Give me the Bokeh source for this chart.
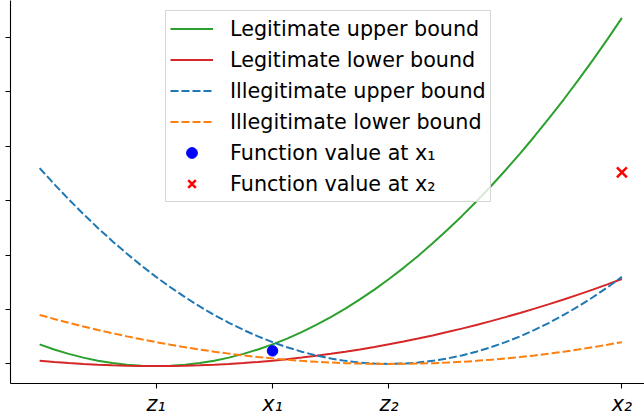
from bokeh.plotting import figure
from bokeh.models import Range1d, FixedTicker, Legend, LegendItem
from bokeh.embed import file_html
from bokeh.resources import INLINE

# ---- data ----
xs = [0.0, 0.125, 0.25, 0.375, 0.5, 0.625, 0.75, 0.875,
      1.0, 1.125, 1.25, 1.375, 1.5, 1.625, 1.75, 1.875,
      2.0, 2.125, 2.25, 2.375, 2.5, 2.625, 2.75, 2.875,
      3.0, 3.125, 3.25, 3.375, 3.5, 3.625, 3.75, 3.875,
      4.0, 4.125, 4.25, 4.375, 4.5, 4.625, 4.75, 4.875, 5.0]
legit_upper = [0.36, 0.266, 0.185, 0.116, 0.06, 0.016, -0.015, -0.034,
               -0.04, -0.034, -0.015, 0.016, 0.06, 0.116, 0.185, 0.266,
               0.36, 0.466, 0.585, 0.716, 0.86, 1.016, 1.185, 1.366,
               1.56, 1.766, 1.985, 2.216, 2.46, 2.716, 2.985, 3.266,
               3.56, 3.866, 4.185, 4.516, 4.86, 5.216, 5.585, 5.966, 6.36]
legit_lower = [0.06, 0.037, 0.016, -0.001, -0.015, -0.026, -0.034, -0.038,
               -0.04, -0.038, -0.034, -0.026, -0.015, -0.001, 0.016, 0.037,
               0.06, 0.087, 0.116, 0.149, 0.185, 0.224, 0.266, 0.312,
               0.36, 0.412, 0.466, 0.524, 0.585, 0.649, 0.716, 0.787,
               0.86, 0.937, 1.016, 1.099, 1.185, 1.274, 1.366, 1.462, 1.56]
illeg_upper = [3.6, 3.306, 3.025, 2.756, 2.5, 2.256, 2.025, 1.806,
               1.6, 1.406, 1.225, 1.056, 0.9, 0.756, 0.625, 0.506,
               0.4, 0.306, 0.225, 0.156, 0.1, 0.056, 0.025, 0.006,
               0.0, 0.006, 0.025, 0.056, 0.1, 0.156, 0.225, 0.306,
               0.4, 0.506, 0.625, 0.756, 0.9, 1.056, 1.225, 1.406, 1.6]
illeg_lower = [0.9, 0.827, 0.756, 0.689, 0.625, 0.564, 0.506, 0.452,
               0.4, 0.352, 0.306, 0.264, 0.225, 0.189, 0.156, 0.127,
               0.1, 0.077, 0.056, 0.039, 0.025, 0.014, 0.006, 0.002,
               0.0, 0.002, 0.006, 0.014, 0.025, 0.039, 0.056, 0.077,
               0.1, 0.127, 0.156, 0.189, 0.225, 0.264, 0.306, 0.352, 0.4]
x1_point = [2.0]
f_x1 = [0.24]
x2_point = [5.0]
f_x2 = [3.52]

tick_positions = [1, 2, 3, 5]
tick_labels = ["z\u2081", "x\u2081", "z\u2082", "x\u2082"]
y_ticks = [0, 1, 2, 3, 4, 5, 6]

FONT = "DejaVu Sans"

p = figure(width=644, height=418, output_backend="svg", toolbar_location=None,
           x_range=Range1d(-0.25, 5.194), y_range=Range1d(-0.36, 6.68),
           min_border_left=10, min_border_right=0, min_border_top=0, min_border_bottom=35)
p.outline_line_color = None
p.xgrid.visible = False
p.ygrid.visible = False
p.background_fill_color = "white"
p.border_fill_color = "white"

r_gu = p.line(xs, legit_upper, line_color="#2ca02c", line_width=2)
r_gl = p.line(xs, legit_lower, line_color="#d62728", line_width=2)
r_iu = p.line(xs, illeg_upper, line_color="#1f77b4", line_width=2, line_dash="8 3")
r_il = p.line(xs, illeg_lower, line_color="#ff7f0e", line_width=2, line_dash="8 3")
r_p1 = p.scatter(x1_point, f_x1, marker="circle", size=10.5, fill_color="#0000ff", line_color="#0000ff")
r_p2 = p.scatter(x2_point, f_x2, marker="x", size=14, line_color="#ff0000", line_width=2.5)

# axes
p.xaxis.ticker = FixedTicker(ticks=tick_positions)
p.xaxis.major_label_overrides = {k: v for k, v in zip(tick_positions, tick_labels)}
p.xaxis.major_label_text_font = FONT
p.xaxis.major_label_text_font_style = "italic"
p.xaxis.major_label_text_font_size = "20.7px"
p.xaxis.major_label_text_color = "black"
p.xaxis.major_label_standoff = 3
p.yaxis.ticker = FixedTicker(ticks=y_ticks)
p.yaxis.major_label_overrides = {k: "" for k in y_ticks}
p.yaxis.major_label_standoff = 0
p.yaxis.major_label_text_font_size = "1px"
for ax in (p.xaxis, p.yaxis):
    ax.axis_line_color = "black"
    ax.axis_line_width = 1.1
    ax.major_tick_line_color = "black"
    ax.major_tick_line_width = 1.1
    ax.major_tick_out = 5
    ax.major_tick_in = 0
    ax.minor_tick_line_color = None

legend = Legend(items=[
    LegendItem(label="Legitimate upper bound", renderers=[r_gu]),
    LegendItem(label="Legitimate lower bound", renderers=[r_gl]),
    LegendItem(label="Illegitimate upper bound", renderers=[r_iu]),
    LegendItem(label="Illegitimate lower bound", renderers=[r_il]),
    LegendItem(label="Function value at x\u2081", renderers=[r_p1]),
    LegendItem(label="Function value at x\u2082", renderers=[r_p2]),
], location=(155, 181))
legend.label_text_font = FONT
legend.label_text_font_size = "20.7px"
legend.label_text_color = "black"
legend.glyph_width = 43
legend.glyph_height = 27
legend.label_height = 19
legend.spacing = 4
legend.padding = 4
legend.label_standoff = 17
legend.margin = 0
legend.border_line_color = "#cccccc"
legend.border_line_alpha = 0.8
legend.border_line_width = 1
legend.background_fill_color = "white"
legend.background_fill_alpha = 0.8
p.add_layout(legend, "center")

open("out.html", "w").write(file_html(p, INLINE))
